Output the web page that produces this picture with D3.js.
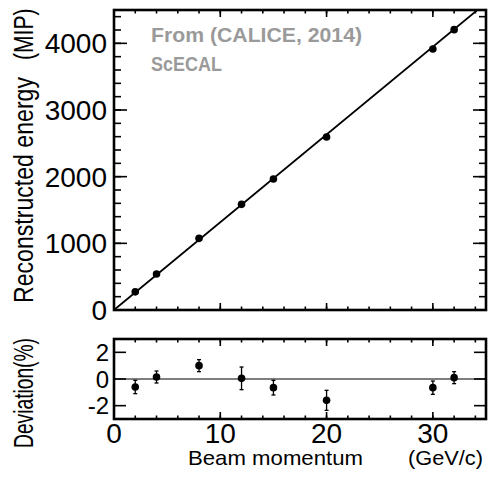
<!DOCTYPE html>
<html><head><meta charset="utf-8">
<script src="https://cdn.jsdelivr.net/npm/d3@7"></script>
<style>
html,body{margin:0;padding:0;background:#fff;}
text{font-family:"Liberation Sans",Arial,Helvetica,sans-serif;}
</style></head>
<body><svg id="c" width="489" height="479"></svg>
<script>
// ---- data ----
const momentum = [2, 4, 8, 12, 15, 20, 30, 32];
const energy = [272, 540, 1075, 1585, 1965, 2595, 3915, 4205];
const deviation = [-0.6, 0.15, 1.0, 0.05, -0.65, -1.6, -0.65, 0.1];
const deviationErr = [0.5, 0.45, 0.45, 0.85, 0.55, 0.75, 0.5, 0.45];
const fitMomentum = [0, 35];
const fitEnergy = [0, 4606];
const energyTicks = [0, 1000, 2000, 3000, 4000];
const devTicks = [-2, 0, 2];
const momentumTicks = [0, 10, 20, 30];

const svg = d3.select("#c");
const L = 114, R = 486;
const x = d3.scaleLinear().domain([0, 35]).range([L, R]);
const y = d3.scaleLinear().domain([0, 4500]).range([310, 10]);
const yd = d3.scaleLinear().domain([-3, 3]).range([419, 339]);

function ticksPanel(ys, yMajor, yMinor, yMajLen, yMinLen) {
  const g = svg.append("g");
  const top = ys.range()[1], bot = ys.range()[0];
  d3.range(0, 35.01, 2).forEach(v => {
    const len = 3.5;
    g.append("line").attr("x1", x(v)).attr("x2", x(v)).attr("y1", bot).attr("y2", bot - len);
    g.append("line").attr("x1", x(v)).attr("x2", x(v)).attr("y1", top).attr("y2", top + len);
  });
  d3.range(0, 35.01, 10).forEach(v => {
    const len = 7;
    g.append("line").attr("x1", x(v)).attr("x2", x(v)).attr("y1", bot).attr("y2", bot - len);
    g.append("line").attr("x1", x(v)).attr("x2", x(v)).attr("y1", top).attr("y2", top + len);
  });
  yMinor.forEach(v => {
    g.append("line").attr("x1", L).attr("x2", L + yMinLen).attr("y1", ys(v)).attr("y2", ys(v));
    g.append("line").attr("x1", R).attr("x2", R - yMinLen).attr("y1", ys(v)).attr("y2", ys(v));
  });
  yMajor.forEach(v => {
    g.append("line").attr("x1", L).attr("x2", L + yMajLen).attr("y1", ys(v)).attr("y2", ys(v));
    g.append("line").attr("x1", R).attr("x2", R - yMajLen).attr("y1", ys(v)).attr("y2", ys(v));
  });
  g.selectAll("line").attr("stroke", "#000").attr("stroke-width", 1.6);
  svg.append("rect").attr("x", L).attr("y", top).attr("width", R - L).attr("height", bot - top)
    .attr("fill", "none").attr("stroke", "#000").attr("stroke-width", 2.6);
}

// ---- main panel ----
ticksPanel(y, energyTicks, d3.range(0, 4500, 200), 13, 7);
svg.append("defs").append("clipPath").attr("id", "clipMain")
  .append("rect").attr("x", L).attr("y", 10).attr("width", R - L).attr("height", 300);
svg.append("path")
  .datum(fitMomentum.map((m, i) => [m, fitEnergy[i]]))
  .attr("clip-path", "url(#clipMain)")
  .attr("d", d3.line().x(d => x(d[0])).y(d => y(d[1])))
  .attr("stroke", "#000").attr("stroke-width", 1.8).attr("fill", "none");
svg.append("g").selectAll("circle").data(momentum).join("circle")
  .attr("cx", d => x(d)).attr("cy", (d, i) => y(energy[i])).attr("r", 3.8).attr("fill", "#000");

svg.append("g").selectAll("text").data(energyTicks).join("text")
  .attr("x", 107).attr("y", d => y(d)).attr("dy", "0.36em").attr("text-anchor", "end")
  .attr("font-size", 28).text(d => d);

// ---- deviation panel ----
ticksPanel(yd, devTicks, [], 12, 0);
svg.append("line").attr("x1", x(0)).attr("x2", x(35)).attr("y1", yd(0)).attr("y2", yd(0))
  .attr("stroke", "#000").attr("stroke-width", 1.2);
const eg = svg.append("g").attr("stroke", "#000").attr("stroke-width", 1.3);
momentum.forEach((m, i) => {
  const lo = yd(deviation[i] - deviationErr[i]), hi = yd(deviation[i] + deviationErr[i]);
  eg.append("line").attr("x1", x(m)).attr("x2", x(m)).attr("y1", lo).attr("y2", hi);
  eg.append("line").attr("x1", x(m) - 2).attr("x2", x(m) + 2).attr("y1", lo).attr("y2", lo);
  eg.append("line").attr("x1", x(m) - 2).attr("x2", x(m) + 2).attr("y1", hi).attr("y2", hi);
});
svg.append("g").selectAll("circle").data(momentum).join("circle")
  .attr("cx", d => x(d)).attr("cy", (d, i) => yd(deviation[i])).attr("r", 3.8).attr("fill", "#000");

svg.append("g").selectAll("text").data(devTicks).join("text")
  .attr("x", 109).attr("y", d => yd(d)).attr("dy", "0.36em").attr("text-anchor", "end")
  .attr("font-size", 24).text(d => d);
svg.append("g").selectAll("text").data(momentumTicks).join("text")
  .attr("x", d => x(d)).attr("y", 443).attr("text-anchor", "middle")
  .attr("font-size", 28).text(d => d);

// ---- labels ----
svg.append("text").attr("transform", "translate(33,303) rotate(-90)")
  .attr("font-size", 27).attr("textLength", 226).attr("lengthAdjust", "spacingAndGlyphs")
  .text("Reconstructed energy");
svg.append("text").attr("transform", "translate(33,60) rotate(-90) scale(0.78,1)")
  .attr("font-size", 27)
  .text("(MIP)");
svg.append("text").attr("transform", "translate(33,448) rotate(-90)")
  .attr("font-size", 27).attr("textLength", 110).attr("lengthAdjust", "spacingAndGlyphs")
  .text("Deviation(%)");
svg.append("text").attr("x", 188).attr("y", 465).attr("font-size", 21)
  .attr("textLength", 175).attr("lengthAdjust", "spacingAndGlyphs").text("Beam momentum");
svg.append("text").attr("x", 408).attr("y", 465).attr("font-size", 21)
  .attr("textLength", 75).attr("lengthAdjust", "spacingAndGlyphs").text("(GeV/c)");

svg.append("text").attr("x", 151).attr("y", 42).attr("font-size", 20).attr("font-weight", "bold")
  .attr("fill", "#9a9a9a").attr("textLength", 211).attr("lengthAdjust", "spacingAndGlyphs")
  .text("From (CALICE, 2014)");
svg.append("text").attr("x", 151).attr("y", 71).attr("font-size", 20).attr("font-weight", "bold")
  .attr("fill", "#9a9a9a").attr("textLength", 71).attr("lengthAdjust", "spacingAndGlyphs")
  .text("ScECAL");
</script></body></html>
